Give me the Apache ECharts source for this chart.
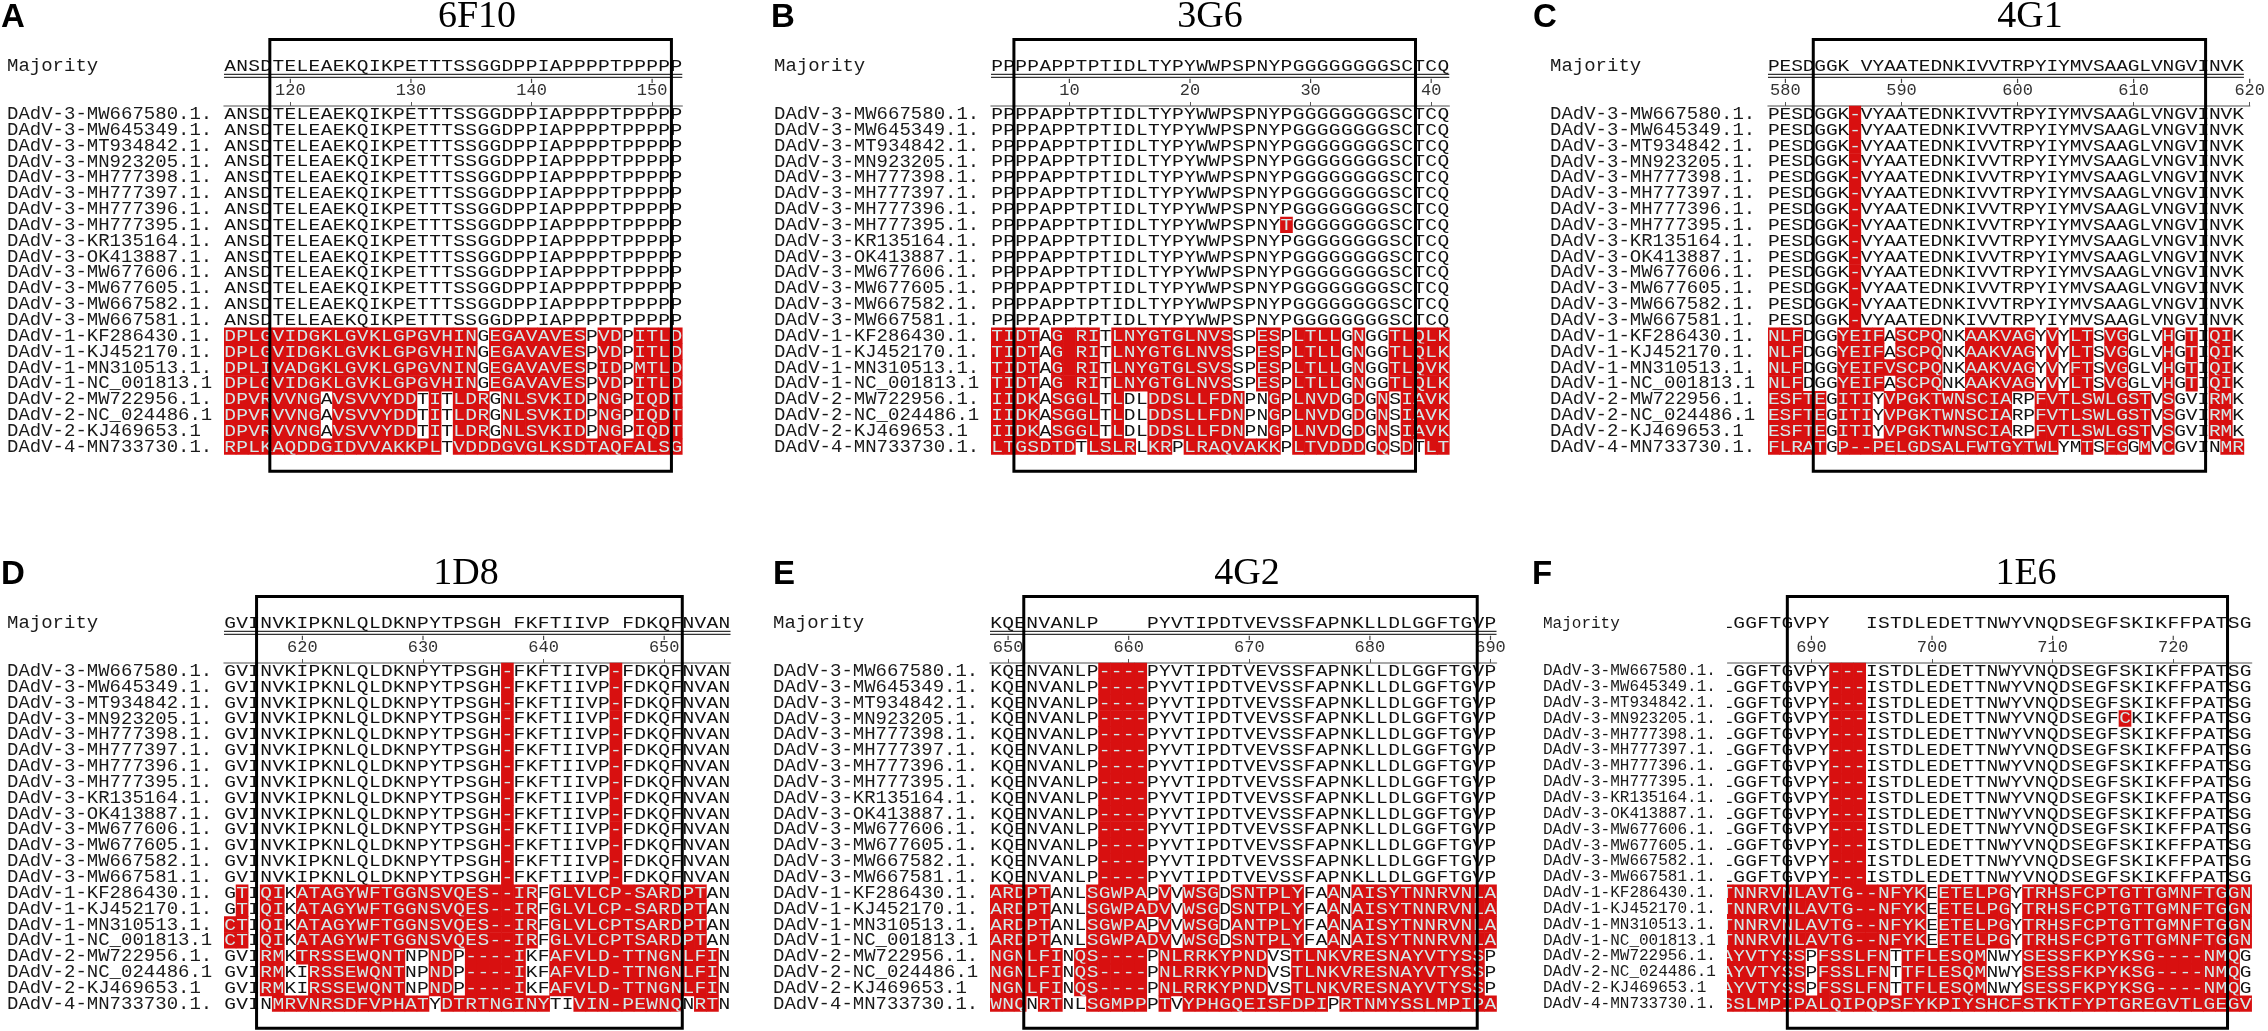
<!DOCTYPE html>
<html>
<head>
<meta charset="utf-8">
<script src="https://cdn.jsdelivr.net/npm/echarts@6/dist/echarts.min.js"></script>
<style>
  html, body { margin: 0; padding: 0; background: #fff; }
  #chart { width: 2268px; height: 1031px; }
</style>
</head>
<body>
<div id="chart"></div>
<script>
// sequence names, same order in every panel
const LABELS = [
  'DAdV-3-MW667580.1.', 'DAdV-3-MW645349.1.', 'DAdV-3-MT934842.1.', 'DAdV-3-MN923205.1.',
  'DAdV-3-MH777398.1.', 'DAdV-3-MH777397.1.', 'DAdV-3-MH777396.1.', 'DAdV-3-MH777395.1.',
  'DAdV-3-KR135164.1.', 'DAdV-3-OK413887.1.', 'DAdV-3-MW677606.1.', 'DAdV-3-MW677605.1.',
  'DAdV-3-MW667582.1.', 'DAdV-3-MW667581.1.', 'DAdV-1-KF286430.1.', 'DAdV-1-KJ452170.1.',
  'DAdV-1-MN310513.1.', 'DAdV-1-NC_001813.1', 'DAdV-2-MW722956.1.', 'DAdV-2-NC_024486.1',
  'DAdV-2-KJ469653.1', 'DAdV-4-MN733730.1.'
];

// A - 6F10
const A_START = 115;
const A_TICKS = [120, 130, 140, 150];
const A_BOX = [118.3, 151.6];
const A_MAJ = 'ANSDTELEAEKQIKPETTTSSGGDPPIAPPPPTPPPPP';
const A_ROWS = [
  'ANSDTELEAEKQIKPETTTSSGGDPPIAPPPPTPPPPP', 'ANSDTELEAEKQIKPETTTSSGGDPPIAPPPPTPPPPP',
  'ANSDTELEAEKQIKPETTTSSGGDPPIAPPPPTPPPPP', 'ANSDTELEAEKQIKPETTTSSGGDPPIAPPPPTPPPPP',
  'ANSDTELEAEKQIKPETTTSSGGDPPIAPPPPTPPPPP', 'ANSDTELEAEKQIKPETTTSSGGDPPIAPPPPTPPPPP',
  'ANSDTELEAEKQIKPETTTSSGGDPPIAPPPPTPPPPP', 'ANSDTELEAEKQIKPETTTSSGGDPPIAPPPPTPPPPP',
  'ANSDTELEAEKQIKPETTTSSGGDPPIAPPPPTPPPPP', 'ANSDTELEAEKQIKPETTTSSGGDPPIAPPPPTPPPPP',
  'ANSDTELEAEKQIKPETTTSSGGDPPIAPPPPTPPPPP', 'ANSDTELEAEKQIKPETTTSSGGDPPIAPPPPTPPPPP',
  'ANSDTELEAEKQIKPETTTSSGGDPPIAPPPPTPPPPP', 'ANSDTELEAEKQIKPETTTSSGGDPPIAPPPPTPPPPP',
  'DPLGVIDGKLGVKLGPGVHINGEGAVAVESPVDPITLD', 'DPLGVIDGKLGVKLGPGVHINGEGAVAVESPVDPITLD',
  'DPLIVADGKLGVKLGPGVNINGEGAVAVESPIDPMTLD', 'DPLGVIDGKLGVKLGPGVHINGEGAVAVESPVDPITLD',
  'DPVRVVNGAVSVVYDDTITLDRGNLSVKIDPNGPIQDT', 'DPVRVVNGAVSVVYDDTITLDRGNLSVKIDPNGPIQDT',
  'DPVRVVNGAVSVVYDDTITLDRGNLSVKIDPNGPIQDT', 'RPLKAQDDGIDVVAKKPLTVDDDGVGLKSDTAQFALSG'
];

// B - 3G6
const B_START = 4;
const B_TICKS = [10, 20, 30, 40];
const B_BOX = [5.4, 38.7];
const B_MAJ = 'PPPPAPPTPTIDLTYPYWWPSPNYPGGGGGGGGSCTCQ';
const B_ROWS = [
  'PPPPAPPTPTIDLTYPYWWPSPNYPGGGGGGGGSCTCQ', 'PPPPAPPTPTIDLTYPYWWPSPNYPGGGGGGGGSCTCQ',
  'PPPPAPPTPTIDLTYPYWWPSPNYPGGGGGGGGSCTCQ', 'PPPPAPPTPTIDLTYPYWWPSPNYPGGGGGGGGSCTCQ',
  'PPPPAPPTPTIDLTYPYWWPSPNYPGGGGGGGGSCTCQ', 'PPPPAPPTPTIDLTYPYWWPSPNYPGGGGGGGGSCTCQ',
  'PPPPAPPTPTIDLTYPYWWPSPNYPGGGGGGGGSCTCQ', 'PPPPAPPTPTIDLTYPYWWPSPNYTGGGGGGGGSCTCQ',
  'PPPPAPPTPTIDLTYPYWWPSPNYPGGGGGGGGSCTCQ', 'PPPPAPPTPTIDLTYPYWWPSPNYPGGGGGGGGSCTCQ',
  'PPPPAPPTPTIDLTYPYWWPSPNYPGGGGGGGGSCTCQ', 'PPPPAPPTPTIDLTYPYWWPSPNYPGGGGGGGGSCTCQ',
  'PPPPAPPTPTIDLTYPYWWPSPNYPGGGGGGGGSCTCQ', 'PPPPAPPTPTIDLTYPYWWPSPNYPGGGGGGGGSCTCQ',
  'TIDTAG RITLNYGTGLNVSSPESPLTLLGNGGTLQLK', 'TIDTAG RITLNYGTGLNVSSPESPLTLLGNGGTLQLK',
  'TIDTAG RITLNYGTGLSVSSPESPLTLLGNGGTLQVK', 'TIDTAG RITLNYGTGLNVSSPESPLTLLGNGGTLQLK',
  'IIDKASGGLTLDLDDSLLFDNPNGPLNVDGDGNSIAVK', 'IIDKASGGLTLDLDDSLLFDNPNGPLNVDGDGNSIAVK',
  'IIDKASGGLTLDLDDSLLFDNPNGPLNVDGDGNSIAVK', 'LTGSDTDTLSLRLKRPLRAQVAKKPLTVDDDGQSDTLT'
];

// C - 4G1
const C_START = 579;
const C_TICKS = [580, 590, 600, 610, 620];
const C_BOX = [582.4, 616.2];
const C_MAJ = 'PESDGGK VYAATEDNKIVVTRPYIYMVSAAGLVNGVINVK';
const C_ROWS = [
  'PESDGGK-VYAATEDNKIVVTRPYIYMVSAAGLVNGVINVK', 'PESDGGK-VYAATEDNKIVVTRPYIYMVSAAGLVNGVINVK',
  'PESDGGK-VYAATEDNKIVVTRPYIYMVSAAGLVNGVINVK', 'PESDGGK-VYAATEDNKIVVTRPYIYMVSAAGLVNGVINVK',
  'PESDGGK-VYAATEDNKIVVTRPYIYMVSAAGLVNGVINVK', 'PESDGGK-VYAATEDNKIVVTRPYIYMVSAAGLVNGVINVK',
  'PESDGGK-VYAATEDNKIVVTRPYIYMVSAAGLVNGVINVK', 'PESDGGK-VYAATEDNKIVVTRPYIYMVSAAGLVNGVINVK',
  'PESDGGK-VYAATEDNKIVVTRPYIYMVSAAGLVNGVINVK', 'PESDGGK-VYAATEDNKIVVTRPYIYMVSAAGLVNGVINVK',
  'PESDGGK-VYAATEDNKIVVTRPYIYMVSAAGLVNGVINVK', 'PESDGGK-VYAATEDNKIVVTRPYIYMVSAAGLVNGVINVK',
  'PESDGGK-VYAATEDNKIVVTRPYIYMVSAAGLVNGVINVK', 'PESDGGK-VYAATEDNKIVVTRPYIYMVSAAGLVNGVINVK',
  'NLFDGGYEIFASCPQNKAAKVAGYVYLTSVGGLVHGTIQIK', 'NLFDGGYEIFASCPQNKAAKVAGYVYLTSVGGLVHGTIQIK',
  'NLFDGGYEIFVSCPQNKAAKVAGYVYFTSVGGLVHGTIQIK', 'NLFDGGYEIFASCPQNKAAKVAGYVYLTSVGGLVHGTIQIK',
  'ESFTEGITIYVPGKTWNSCIARPFVTLSWLGSTVSGVIRMK', 'ESFTEGITIYVPGKTWNSCIARPFVTLSWLGSTVSGVIRMK',
  'ESFTEGITIYVPGKTWNSCIARPFVTLSWLGSTVSGVIRMK', 'FLRATGP--PELGDSALFWTGYTWLYMTSFGGMVCGVINMR'
];

// D - 1D8
const D_START = 614;
const D_TICKS = [620, 630, 640, 650];
const D_BOX = [616.2, 651.5];
const D_MAJ = 'GVINVKIPKNLQLDKNPYTPSGH FKFTIIVP FDKQFNVAN';
const D_ROWS = [
  'GVINVKIPKNLQLDKNPYTPSGH-FKFTIIVP-FDKQFNVAN', 'GVINVKIPKNLQLDKNPYTPSGH-FKFTIIVP-FDKQFNVAN',
  'GVINVKIPKNLQLDKNPYTPSGH-FKFTIIVP-FDKQFNVAN', 'GVINVKIPKNLQLDKNPYTPSGH-FKFTIIVP-FDKQFNVAN',
  'GVINVKIPKNLQLDKNPYTPSGH-FKFTIIVP-FDKQFNVAN', 'GVINVKIPKNLQLDKNPYTPSGH-FKFTIIVP-FDKQFNVAN',
  'GVINVKIPKNLQLDKNPYTPSGH-FKFTIIVP-FDKQFNVAN', 'GVINVKIPKNLQLDKNPYTPSGH-FKFTIIVP-FDKQFNVAN',
  'GVINVKIPKNLQLDKNPYTPSGH-FKFTIIVP-FDKQFNVAN', 'GVINVKIPKNLQLDKNPYTPSGH-FKFTIIVP-FDKQFNVAN',
  'GVINVKIPKNLQLDKNPYTPSGH-FKFTIIVP-FDKQFNVAN', 'GVINVKIPKNLQLDKNPYTPSGH-FKFTIIVP-FDKQFNVAN',
  'GVINVKIPKNLQLDKNPYTPSGH-FKFTIIVP-FDKQFNVAN', 'GVINVKIPKNLQLDKNPYTPSGH-FKFTIIVP-FDKQFNVAN',
  'GTIQIKATAGYWFTGGNSVQES--IRFGLVLCP-SARDPTAN', 'GTIQIKATAGYWFTGGNSVQES--IRFGLVLCP-SARDPTAN',
  'CTIQIKATAGYWFTGGNSVQES--IRFGLVLCPTSARDPTAN', 'CTIQIKATAGYWFTGGNSVQES--IRFGLVLCPTSARDPTAN',
  'GVIRMKTRSSEWQNTNPNDP----IKFAFVLD-TTNGNLFIN', 'GVIRMKIRSSEWQNTNPNDP----IKFAFVLD-TTNGNLFIN',
  'GVIRMKIRSSEWQNTNPNDP----IKFAFVLD-TTNGNLFIN', 'GVINMRVNRSDFVPHATYDTRTNGINYTIVIN-PEWNQNRTN'
];

// E - 4G2
const E_START = 649;
const E_TICKS = [650, 660, 670, 680, 690];
const E_BOX = [651.3, 688.9];
const E_MAJ = 'KQENVANLP    PYVTIPDTVEVSSFAPNKLLDLGGFTGVP';
const E_ROWS = [
  'KQENVANLP----PYVTIPDTVEVSSFAPNKLLDLGGFTGVP', 'KQENVANLP----PYVTIPDTVEVSSFAPNKLLDLGGFTGVP',
  'KQENVANLP----PYVTIPDTVEVSSFAPNKLLDLGGFTGVP', 'KQENVANLP----PYVTIPDTVEVSSFAPNKLLDLGGFTGVP',
  'KQENVANLP----PYVTIPDTVEVSSFAPNKLLDLGGFTGVP', 'KQENVANLP----PYVTIPDTVEVSSFAPNKLLDLGGFTGVP',
  'KQENVANLP----PYVTIPDTVEVSSFAPNKLLDLGGFTGVP', 'KQENVANLP----PYVTIPDTVEVSSFAPNKLLDLGGFTGVP',
  'KQENVANLP----PYVTIPDTVEVSSFAPNKLLDLGGFTGVP', 'KQENVANLP----PYVTIPDTVEVSSFAPNKLLDLGGFTGVP',
  'KQENVANLP----PYVTIPDTVEVSSFAPNKLLDLGGFTGVP', 'KQENVANLP----PYVTIPDTVEVSSFAPNKLLDLGGFTGVP',
  'KQENVANLP----PYVTIPDTVEVSSFAPNKLLDLGGFTGVP', 'KQENVANLP----PYVTIPDTVEVSSFAPNKLLDLGGFTGVP',
  'ARDPTANLSGWPAPVVWSGDSNTPLYFAANAISYTNNRVNLA', 'ARDPTANLSGWPADVVWSGDSNTPLYFAANAISYTNNRVNLA',
  'ARDPTANLSGWPAPVVWSGDANTPLYFAANAISYTNNRVNLA', 'ARDPTANLSGWPADVVWSGDSNTPLYFAANAISYTNNRVNLA',
  'NGNLFINQS----PNLRRKYPNDVSTLNKVRESNAYVTYSSP', 'NGNLFINQS----PNLRRKYPNDVSTLNKVRESNAYVTYSSP',
  'NGNLFINQS----PNLRRKYPNDVSTLNKVRESNAYVTYSSP', 'WNQNRTNLSGMPPPTVYPHGQEISFDPIPRTNMYSSLMPIPA'
];

// F - 1E6
const F_START = 683;
const F_TICKS = [690, 700, 710, 720];
const F_BOX = [688.0, 724.5];
const F_MAJ = 'LGGFTGVPY   ISTDLEDETTNWYVNQDSEGFSKIKFFPATSG';
const F_ROWS = [
  'LGGFTGVPY---ISTDLEDETTNWYVNQDSEGFSKIKFFPATSG', 'LGGFTGVPY---ISTDLEDETTNWYVNQDSEGFSKIKFFPATSG',
  'LGGFTGVPY---ISTDLEDETTNWYVNQDSEGFSKIKFFPATSG', 'LGGFTGVPY---ISTDLEDETTNWYVNQDSEGFCKIKFFPATSG',
  'LGGFTGVPY---ISTDLEDETTNWYVNQDSEGFSKIKFFPATSG', 'LGGFTGVPY---ISTDLEDETTNWYVNQDSEGFSKIKFFPATSG',
  'LGGFTGVPY---ISTDLEDETTNWYVNQDSEGFSKIKFFPATSG', 'LGGFTGVPY---ISTDLEDETTNWYVNQDSEGFSKIKFFPATSG',
  'LGGFTGVPY---ISTDLEDETTNWYVNQDSEGFSKIKFFPATSG', 'LGGFTGVPY---ISTDLEDETTNWYVNQDSEGFSKIKFFPATSG',
  'LGGFTGVPY---ISTDLEDETTNWYVNQDSEGFSKIKFFPATSG', 'LGGFTGVPY---ISTDLEDETTNWYVNQDSEGFSKIKFFPATSG',
  'LGGFTGVPY---ISTDLEDETTNWYVNQDSEGFSKIKFFPATSG', 'LGGFTGVPY---ISTDLEDETTNWYVNQDSEGFSKIKFFPATSG',
  'TNNRVNLAVTG--NFYKEETELPGYTRHSFCPTGTTGMNFTGGN', 'TNNRVNLAVTG--NFYKEETELPGYTRHSFCPTGTTGMNFTGGN',
  'TNNRVNLAVTG--NFYKEETELPGYTRHSFCPTGTTGMNFTGGN', 'TNNRVNLAVTG--NFYKEETELPGYTRHSFCPTGTTGMNFTGGN',
  'AYVTYSSPFSSLFNTTFLESQMNWYSESSFKPYKSG----NMQG', 'AYVTYSSPFSSLFNTTFLESQMNWYSESSFKPYKSG----NMQG',
  'AYVTYSSPFSSLFNTTFLESQMNWYSESSFKPYKSG----NMQG', 'SSLMPIPALQIPQPSFYKPIYSHCFSTKTFYPTGREGVTLGEGV'
];

// layout
const CW = 12.06;      // px per residue
const RH = 15.85;      // px per row
const MAJ_ROW = -3;    // majority row sits three rows above the first sequence
const Y_MIN = -3.6, Y_MAX = 22;
const BOX_ROWS = [-4.2, 23.05];
const RED = '#d81010';
const ON_RED = '#d3e9e9';
const INK = '#111';
const MONO = 'Liberation Mono';

const PANELS = [
  { letter: 'A', title: '6F10', start: A_START, maj: A_MAJ, rows: A_ROWS, ticks: A_TICKS, box: A_BOX,
    labelX: 7, seqX: 224, base: 106, letterX: 1, titleX: 477 },
  { letter: 'B', title: '3G6', start: B_START, maj: B_MAJ, rows: B_ROWS, ticks: B_TICKS, box: B_BOX,
    labelX: 774, seqX: 991, base: 106, letterX: 771, titleX: 1210 },
  { letter: 'C', title: '4G1', start: C_START, maj: C_MAJ, rows: C_ROWS, ticks: C_TICKS, box: C_BOX,
    labelX: 1550, seqX: 1768, base: 106, letterX: 1533, titleX: 2030, extend: 0.5 },
  { letter: 'D', title: '1D8', start: D_START, maj: D_MAJ, rows: D_ROWS, ticks: D_TICKS, box: D_BOX,
    labelX: 7, seqX: 224, base: 663, letterX: 1, titleX: 466 },
  { letter: 'E', title: '4G2', start: E_START, maj: E_MAJ, rows: E_ROWS, ticks: E_TICKS, box: E_BOX,
    labelX: 773, seqX: 990, base: 663, letterX: 773, titleX: 1247 },
  { letter: 'F', title: '1E6', start: F_START, maj: F_MAJ, rows: F_ROWS, ticks: F_TICKS, box: F_BOX,
    labelX: 1543, seqX: 1721, base: 663, letterX: 1532, titleX: 2026, clip: 0.55, noUnderline: true, labelSize: 16 }
];

const grids = [], xAxes = [], yAxes = [], series = [], graphics = [];

PANELS.forEach((p, pi) => {
  const n = p.maj.length;
  const clip = p.clip || 0;
  const extend = p.extend || 0;
  const xMin = p.start - 0.5 + clip;
  const xMax = p.start - 0.5 + n + extend;
  const seqEnd = p.start - 0.5 + n;
  const left = p.seqX + clip * CW;

  grids.push({
    left: left,
    top: p.base + Y_MIN * RH,
    width: (n - clip + extend) * CW,
    height: (Y_MAX - Y_MIN) * RH
  });

  // ruler: the axis is pushed down from the grid top onto the top edge of row 0
  xAxes.push({
    gridIndex: pi, type: 'value', position: 'top', min: xMin, max: xMax,
    offset: Y_MIN * RH,
    axisLine: { onZero: false, lineStyle: { color: '#8c8c8c', width: 1.5 } },
    axisTick: { show: true, customValues: p.ticks, length: 4, lineStyle: { color: '#555' } },
    axisLabel: { customValues: p.ticks, margin: 7, fontFamily: MONO, fontSize: 17, color: '#333' },
    splitLine: { show: false }
  });

  // row names; a blank entry closes the list so the min/max label check
  // drops the blank one instead of a real name
  const labelValues = [MAJ_ROW + 0.5].concat(LABELS.map((_, i) => i + 0.5), [Y_MAX - 0.05]);
  yAxes.push({
    gridIndex: pi, type: 'value', inverse: true, min: Y_MIN, max: Y_MAX,
    axisLine: { show: false, onZero: false }, axisTick: { show: false }, splitLine: { show: false },
    axisLabel: {
      customValues: labelValues,
      showMinLabel: true, showMaxLabel: false, hideOverlap: false,
      formatter: v => (v < 0 ? 'Majority' : (LABELS[Math.floor(v)] || ' ')),
      align: 'left', margin: left - p.labelX,
      fontFamily: MONO, fontSize: p.labelSize || 19, color: '#1a1a1a'
    }
  });

  // residues: red where a sequence differs from the majority
  const cells = [];
  [p.maj].concat(p.rows).forEach((seq, r) => {
    const y = r === 0 ? MAJ_ROW : r - 1;
    for (let i = 0; i < seq.length; i++) {
      const ch = seq[i];
      const red = r > 0 && ch !== p.maj[i];
      if (ch === ' ' && !red) continue;
      cells.push({ value: [p.start + i, y, red ? 1 : 0], ch: ch });
    }
  });

  series.push({
    type: 'custom', xAxisIndex: pi, yAxisIndex: pi, clip: true, silent: true,
    data: cells,
    renderItem: (params, api) => {
      const c = cells[params.dataIndex];
      const x = api.value(0), y = api.value(1);
      const a = api.coord([x - 0.5, y]);
      const b = api.coord([x + 0.5, y + 1]);
      const red = api.value(2) === 1;
      const children = [];
      if (red) {
        children.push({
          type: 'rect',
          shape: { x: a[0] - 0.3, y: a[1] - 0.3, width: b[0] - a[0] + 0.6, height: b[1] - a[1] + 0.6 },
          style: { fill: RED }
        });
      }
      if (c.ch !== ' ') {
        children.push({
          type: 'text', x: (a[0] + b[0]) / 2, y: (a[1] + b[1]) / 2 + 0.5, scaleX: 1.15,
          style: {
            text: c.ch, fill: red ? ON_RED : INK,
            fontFamily: MONO, fontSize: 17, align: 'center', verticalAlign: 'middle'
          }
        });
      }
      return { type: 'group', children: children };
    }
  });

  // double underline and ticks under the majority row
  series.push({
    type: 'custom', xAxisIndex: pi, yAxisIndex: pi, clip: false, silent: true,
    data: [[p.start]],
    renderItem: (params, api) => {
      const children = [];
      if (!p.noUnderline) {
        [MAJ_ROW + 1, MAJ_ROW + 1.2].forEach(yy => {
          const a = api.coord([xMin, yy]), b = api.coord([seqEnd, yy]);
          children.push({ type: 'line', shape: { x1: a[0], y1: a[1], x2: b[0], y2: b[1] },
            style: { stroke: '#333', lineWidth: 1.3 } });
        });
      }
      p.ticks.forEach(t => {
        const a = api.coord([t, MAJ_ROW + 1.28]), b = api.coord([t, MAJ_ROW + 1.55]);
        children.push({ type: 'line', shape: { x1: a[0], y1: a[1], x2: b[0], y2: b[1] },
          style: { stroke: '#444', lineWidth: 1.2 } });
      });
      return { type: 'group', children: children };
    }
  });

  // epitope box
  series.push({
    type: 'custom', xAxisIndex: pi, yAxisIndex: pi, clip: false, silent: true, z: 5,
    data: [[p.box[0], p.box[1]]],
    renderItem: (params, api) => {
      const a = api.coord([api.value(0), BOX_ROWS[0]]);
      const b = api.coord([api.value(1), BOX_ROWS[1]]);
      return {
        type: 'rect',
        shape: { x: a[0], y: a[1], width: b[0] - a[0], height: b[1] - a[1] },
        style: { fill: 'none', stroke: '#000', lineWidth: 3 }
      };
    }
  });

  graphics.push({
    type: 'text', x: p.letterX, y: p.base - 88,
    style: { text: p.letter, font: 'bold 33px "Liberation Sans"', fill: '#000', verticalAlign: 'middle' }
  });
  graphics.push({
    type: 'text', x: p.titleX, y: p.base - 89,
    style: { text: p.title, font: '38px "Liberation Serif"', fill: '#000', align: 'center', verticalAlign: 'middle' }
  });
});

const chart = echarts.init(document.getElementById('chart'), null, { renderer: 'canvas' });
chart.setOption({
  backgroundColor: '#fff',
  animation: false,
  grid: grids,
  xAxis: xAxes,
  yAxis: yAxes,
  series: series,
  graphic: graphics
});
window.addEventListener('resize', () => { chart.resize(); });
</script>
</body>
</html>
